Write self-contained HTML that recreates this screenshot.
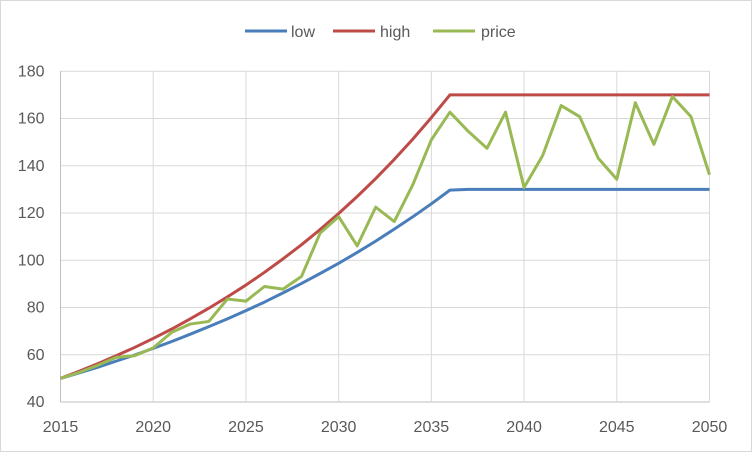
<!DOCTYPE html>
<html><head><meta charset="utf-8"><style>
html,body{margin:0;padding:0;background:#fff}
svg{display:block;font-family:"Liberation Sans",sans-serif}
</style></head><body>
<svg id="chart" width="752" height="452" viewBox="0 0 752 452">
<rect x="0.5" y="0.5" width="751" height="451" fill="#fff" stroke="#d9d9d9"/>
<g id="grid"></g><g id="axes"></g><g id="series"></g>
<g font-size="16" fill="#595959">
<g><line x1="245" y1="31" x2="287" y2="31" stroke="#4a7ebb" stroke-width="3"/><text x="291" y="37">low</text></g>
<g><line x1="333" y1="31" x2="375" y2="31" stroke="#be4b48" stroke-width="3"/><text x="380" y="37">high</text></g>
<g><line x1="433" y1="31" x2="475" y2="31" stroke="#98b954" stroke-width="3"/><text x="481" y="37">price</text></g>
</g>
</svg>
<script>
const years=[];for(let y=2015;y<=2050;y++)years.push(y);
const lowValues=[50,52.3,54.7,57.3,59.9,62.7,65.6,68.7,71.9,75.2,78.7,82.3,86.2,90.2,94.4,98.7,103.3,108.1,113.2,118.4,123.9,129.7,130,130,130,130,130,130,130,130,130,130,130,130,130,130];
const highValues=[50,53,56.2,59.6,63.1,66.9,70.9,75.2,79.7,84.5,89.5,94.9,100.6,106.6,113,119.8,127,134.6,142.7,151.3,160.4,170,170,170,170,170,170,170,170,170,170,170,170,170,170,170];
const priceValues=[50,52.5,55.5,58.9,59.6,62.9,69.5,73,74.1,83.6,82.7,88.9,87.8,93.2,111.5,118.5,106.1,122.5,116.4,132,151,162.7,154.5,147.4,162.7,130.8,144.3,165.5,160.8,143.2,134.3,166.7,149.1,169.3,160.8,136.2];
const yTicks=[40,60,80,100,120,140,160,180];
const xTicks=[2015,2020,2025,2030,2035,2040,2045,2050];
const X0=60.5,X1=709.5,Y0=402,Y1=71.3;
const xs=v=>X0+(v-2015)/(2050-2015)*(X1-X0);
const ys=v=>Y0-(v-40)/(180-40)*(Y0-Y1);
const NS="http://www.w3.org/2000/svg";
function mk(t,a,p){const e=document.createElementNS(NS,t);for(const k in a)e.setAttribute(k,a[k]);p.appendChild(e);return e;}
const grid=document.getElementById('grid'),axes=document.getElementById('axes'),ser=document.getElementById('series');
yTicks.forEach(v=>{
const l=mk('line',{x1:X0,x2:X1,y1:ys(v),y2:ys(v),stroke:v===40?'#bfbfbf':'#d9d9d9','stroke-width':1},grid);


const t=mk('text',{x:X0-16,y:ys(v)+5,'text-anchor':'end','font-size':'16',fill:'#595959'},axes);
t.textContent=v;


});
xTicks.forEach(v=>{
const l=mk('line',{x1:xs(v),x2:xs(v),y1:Y1,y2:Y0,stroke:v===2015?'#bfbfbf':'#d9d9d9','stroke-width':1},grid);


const t=mk('text',{x:xs(v),y:Y0+30,'text-anchor':'middle','font-size':'16',fill:'#595959'},axes);
t.textContent=v;


});
[[lowValues,'#4a7ebb','low-line'],[highValues,'#be4b48','high-line'],[priceValues,'#98b954','price-line']].forEach(([d,c,n])=>{
const p=mk('polyline',{points:d.map((v,i)=>xs(years[i])+','+ys(v)).join(' '),fill:'none',stroke:c,'stroke-width':3,'stroke-linejoin':'round'},ser);


});
</script>
</body></html>
